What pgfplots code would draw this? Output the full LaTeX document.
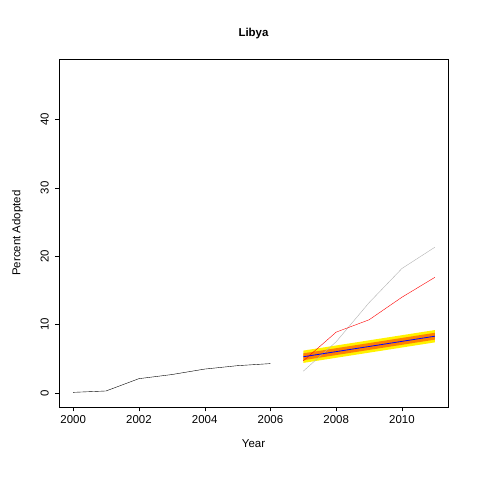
\documentclass[border=0pt]{standalone}
\usepackage{pgfplots}
\pgfplotsset{compat=1.18}
\usepackage{fontspec}
\setmainfont{Liberation Sans}
\begin{document}
\fontsize{11.5}{14}\selectfont
\begin{tikzpicture}
\path (-59bp,-73bp) rectangle (421bp,407bp);
\begin{axis}[at={(0,0)},anchor=south west,scale only axis,width=389bp,height=348bp,
 xmin=1999.57,xmax=2011.4,ymin=-2.04,ymax=48.8,
 xtick={2000,2002,...,2010},ytick={0,10,20,30,40},
 xtick pos=left, ytick pos=left,
 xticklabel style={/pgf/number format/1000 sep={}},
 /pgf/number format/assume math mode=true,
 tick align=outside, tick style={black},
 yticklabel style={rotate=90,anchor=south,yshift=2bp},
 xlabel={Year},ylabel={Percent Adopted},
 xlabel style={yshift=-8bp},ylabel style={yshift=10bp},
 title={\bfseries Libya},title style={yshift=10bp},
 axis line style={black}, clip=true]
\addplot[draw=none,fill=yellow,forget plot] coordinates {(2007,4.4)(2011,7.4)(2011,9.2)(2007,6.2)} -- cycle;
\addplot[draw=none,fill=orange,forget plot] coordinates {(2007,4.8)(2011,7.8)(2011,8.8)(2007,5.8)} -- cycle;
\addplot[black] coordinates {(2000,0.1)(2001,0.3)(2002,2.1)(2003,2.7)(2004,3.5)(2005,4.0)(2006,4.3)};
\addplot[gray!60] coordinates {(2007,3.2)(2008,7.5)(2009,13.2)(2010,18.2)(2011,21.3)};
\addplot[red] coordinates {(2007,4.7)(2008,8.9)(2009,10.7)(2010,14.0)(2011,16.9)};
\addplot[blue,thick] coordinates {(2007,5.3)(2011,8.3)};
\end{axis}
\end{tikzpicture}
\end{document}
